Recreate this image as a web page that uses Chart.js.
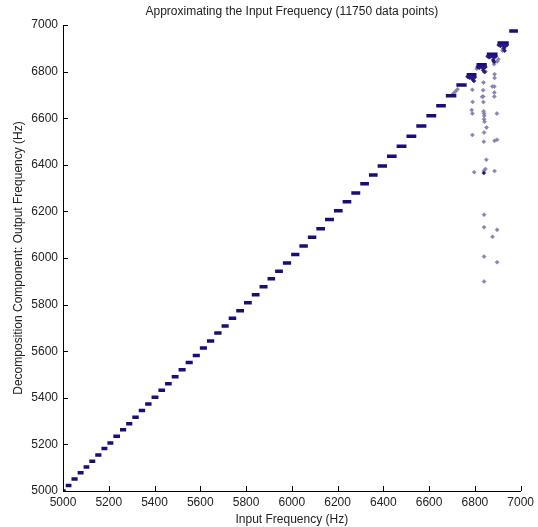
<!DOCTYPE html>
<html>
<head>
<meta charset="utf-8">
<script src="https://cdn.jsdelivr.net/npm/chart.js@4/dist/chart.umd.min.js"></script>
<style>
  html, body { margin: 0; padding: 0; background: #fff; }
  #wrap { width: 538px; height: 527px; }
</style>
</head>
<body>
<div id="wrap"><canvas id="myChart" width="538" height="527"></canvas></div>
<script>
// quantizer steps: output level and the input range it covers (Hz)
const stepLevel = [5000, 5024, 5051, 5078, 5103, 5128, 5154, 5182, 5206, 5235,
                   5263, 5289, 5317, 5345, 5373, 5402, 5432, 5460, 5490, 5520,
                   5552, 5582, 5614, 5644, 5678, 5708, 5741, 5774, 5808, 5842,
                   5877, 5911, 5943, 5979, 6015, 6052, 6089, 6126, 6165, 6203,
                   6241, 6279, 6319, 6356, 6395, 6437, 6480, 6523, 6566, 6610,
                   6653, 6696, 6742, 6786, 6829, 6875, 6923, 6974];
const stepFrom = [5000, 5012, 5037, 5064, 5090, 5115, 5141, 5168, 5194, 5220,
                  5249, 5276, 5303, 5331, 5359, 5387, 5417, 5446, 5475, 5505,
                  5536, 5567, 5598, 5629, 5661, 5693, 5724, 5757, 5791, 5825,
                  5859, 5894, 5927, 5961, 5997, 6033, 6070, 6107, 6145, 6184,
                  6222, 6260, 6299, 6337, 6375, 6416, 6458, 6501, 6544, 6588,
                  6631, 6673, 6719, 6764, 6807, 6852, 6899, 6950];
const stepTo = [5012, 5037, 5064, 5090, 5115, 5141, 5168, 5194, 5220, 5249,
                5276, 5303, 5331, 5359, 5387, 5417, 5446, 5475, 5505, 5536,
                5567, 5598, 5629, 5661, 5693, 5724, 5757, 5791, 5825, 5859,
                5894, 5927, 5961, 5997, 6033, 6070, 6107, 6145, 6184, 6222,
                6260, 6299, 6337, 6375, 6416, 6458, 6501, 6544, 6588, 6631,
                6673, 6719, 6764, 6807, 6852, 6899, 6948, 6988];

// stray estimates near the top end
const strayX = [6789, 6790, 6786, 6789, 6789, 6797, 6840, 6850, 6846, 6886,
                6839, 6840, 6840, 6841, 6840, 6842, 6838, 6896, 6886, 6897,
                6837, 6836, 6836, 6885, 6885, 6885, 6876, 6886, 6886, 6838,
                6840, 6840, 6897, 6877, 6840, 6897, 6840, 6846, 6897, 6903,
                6883, 6884, 6921, 6923, 6832, 6851, 6700, 6708, 6716, 6724,
                6808, 6815, 6822, 6860, 6866];
const strayY = [6722, 6670, 6635, 6620, 6528, 6368, 6375, 6422, 6382, 6373,
                6499, 6539, 6596, 6610, 6620, 6585, 6630, 6620, 6503, 6508,
                6669, 6693, 6720, 6710, 6693, 6736, 6736, 6789, 6773, 6753,
                6186, 6132, 6121, 6091, 6006, 5982, 5899, 6800, 6843, 6853,
                6843, 6832, 6890, 6896, 6692, 6560, 6700, 6708, 6716, 6724,
                6812, 6818, 6826, 6862, 6868];

// dense points hanging under the last steps
const clusterX = [6768, 6776, 6784, 6792, 6800, 6790, 6796,
                  6812, 6820, 6830, 6838, 6846, 6836, 6842,
                  6856, 6864, 6874, 6884, 6892, 6880, 6884,
                  6904, 6912, 6922, 6932, 6940, 6926, 6930, 6839];
const clusterY = [6778, 6774, 6777, 6772, 6776, 6766, 6760,
                  6820, 6816, 6820, 6814, 6820, 6806, 6798,
                  6866, 6862, 6866, 6860, 6866, 6850, 6842,
                  6914, 6910, 6914, 6908, 6914, 6900, 6890, 6365];

const xTicks = [5000, 5200, 5400, 5600, 5800, 6000, 6200, 6400, 6600, 6800, 7000];
const yTicks = [5000, 5200, 5400, 5600, 5800, 6000, 6200, 6400, 6600, 6800, 7000];

const stepPts = [];
stepLevel.forEach(function(lv, i){
    stepPts.push({x: stepFrom[i], y: lv});
    stepPts.push({x: stepTo[i], y: lv});
    stepPts.push({x: stepTo[i], y: null});
});
const strayPts = strayX.map(function(x, i){ return {x: x, y: strayY[i]}; });
const clusterPts = clusterX.map(function(x, i){ return {x: x, y: clusterY[i]}; });

const FONT = {family: '"Liberation Sans", Arial, sans-serif', size: 12};

// title over the plot area and inward tick marks, matlab style
const matlabBits = {
    id: 'matlabBits',
    afterDraw: function(chart){
        const ctx = chart.ctx, a = chart.chartArea;
        const xs = chart.scales.x, ys = chart.scales.y;
        ctx.save();
        ctx.strokeStyle = '#000';
        ctx.lineWidth = 1;
        ctx.beginPath();
        xTicks.forEach(function(v){
            const px = Math.round(xs.getPixelForValue(v)) + 0.5;
            ctx.moveTo(px, a.bottom);
            ctx.lineTo(px, a.bottom - 5);
        });
        yTicks.forEach(function(v){
            const py = Math.round(ys.getPixelForValue(v)) + 0.5;
            ctx.moveTo(a.left, py);
            ctx.lineTo(a.left + 5, py);
        });
        ctx.stroke();
        ctx.fillStyle = '#222';
        ctx.font = '12px "Liberation Sans", Arial, sans-serif';
        ctx.textAlign = 'center';
        ctx.textBaseline = 'middle';
        ctx.fillText('Approximating the Input Frequency (11750 data points)', (a.left + a.right) / 2, 12);
        ctx.restore();
    }
};

const canvas = document.getElementById('myChart');
const myChart = new Chart(canvas, {
    type: 'scatter',
    data: {
        datasets: [{
            label: 'steps',
            data: stepPts,
            showLine: true,
            spanGaps: false,
            borderColor: '#1e0a78',
            borderWidth: 3.5,
            pointRadius: 0,
            order: 1
        }, {
            label: 'stray',
            data: strayPts,
            pointStyle: 'rectRot',
            pointRadius: 2,
            backgroundColor: '#8a84b4',
            borderColor: '#7a72aa',
            borderWidth: 0.5,
            order: 2
        }, {
            label: 'cluster',
            data: clusterPts,
            pointStyle: 'rectRot',
            pointRadius: 2,
            backgroundColor: '#2a1580',
            borderColor: '#2a1580',
            borderWidth: 0.5,
            order: 0
        }]
    },
    options: {
        responsive: false,
        animation: false,
        layout: { padding: { top: 25, right: 7, left: 0, bottom: 0 } },
        plugins: {
            legend: { display: false },
            tooltip: { enabled: false }
        },
        scales: {
            x: {
                type: 'linear',
                min: 5000,
                max: 7000,
                afterBuildTicks: function(s){ s.ticks = xTicks.map(function(v){ return {value: v}; }); },
                afterFit: function(s){ s.height = 36; },
                ticks: {
                    color: '#222',
                    font: FONT,
                    padding: 4,
                    maxRotation: 0,
                    callback: function(v){ return String(v); }
                },
                grid: { drawOnChartArea: false, drawTicks: false },
                border: { color: '#000', width: 1 },
                title: {
                    display: true,
                    text: 'Input Frequency (Hz)',
                    color: '#222',
                    font: FONT,
                    padding: { top: 0, bottom: 0 }
                }
            },
            y: {
                type: 'linear',
                min: 5000,
                max: 7000,
                afterBuildTicks: function(s){ s.ticks = yTicks.map(function(v){ return {value: v}; }); },
                afterFit: function(s){ s.width = 63; },
                ticks: {
                    color: '#222',
                    font: FONT,
                    padding: 5,
                    callback: function(v){ return String(v); }
                },
                grid: { drawOnChartArea: false, drawTicks: false },
                border: { color: '#000', width: 1 },
                title: {
                    display: true,
                    text: 'Decomposition Component: Output Frequency (Hz)',
                    color: '#222',
                    font: FONT,
                    padding: { top: 11, bottom: 0 }
                }
            }
        }
    },
    plugins: [matlabBits]
});
</script>
</body>
</html>
